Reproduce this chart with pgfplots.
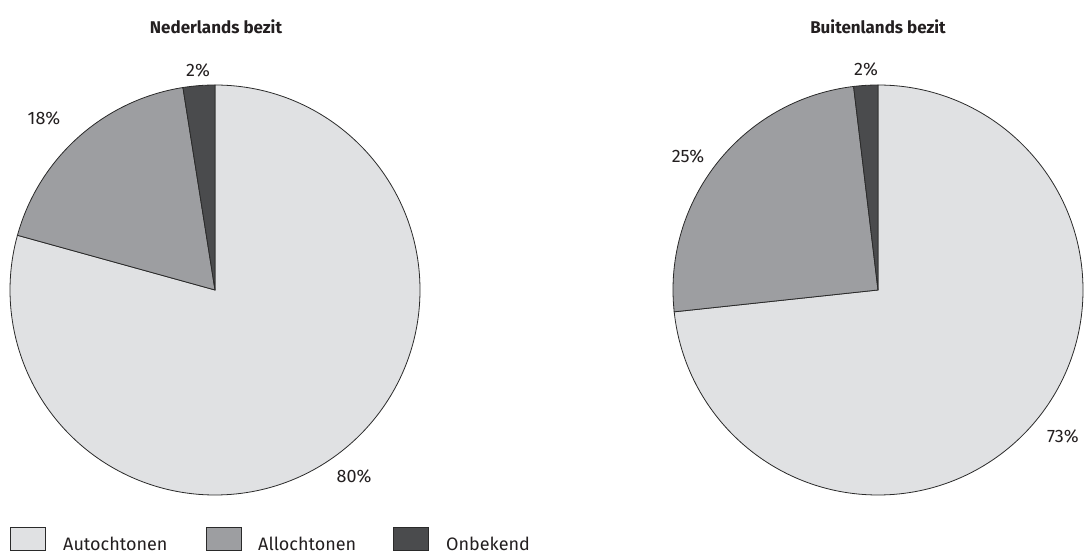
\documentclass[border=0pt]{standalone}
\usepackage{pgfplots}
\pgfplotsset{compat=1.18}
\usepackage{pgfplotstable}
\usepackage{fontspec}
\setmainfont{Fira Sans}
\definecolor{cAuto}{HTML}{E0E1E3}
\definecolor{cAllo}{HTML}{9D9EA1}
\definecolor{cOnb}{HTML}{4A4B4D}
\definecolor{cLine}{HTML}{2A2A2A}
\definecolor{cText}{HTML}{231F20}

\pgfplotstableread{
category value
Autochtonen 79.3
Allochtonen 18.2
Onbekend 2.5
}\nltable
\pgfplotstableread{
category value
Autochtonen 73.3
Allochtonen 24.8
Onbekend 1.9
}\bltable

\pgfplotstablegetelem{0}{value}\of\nltable \let\nlA\pgfplotsretval
\pgfplotstablegetelem{1}{value}\of\nltable \let\nlB\pgfplotsretval
\pgfplotstablegetelem{2}{value}\of\nltable \let\nlC\pgfplotsretval
\pgfplotstablegetelem{0}{value}\of\bltable \let\blA\pgfplotsretval
\pgfplotstablegetelem{1}{value}\of\bltable \let\blB\pgfplotsretval
\pgfplotstablegetelem{2}{value}\of\bltable \let\blC\pgfplotsretval

\pgfmathsetmacro{\nlEa}{90-3.6*\nlA}
\pgfmathsetmacro{\nlEb}{\nlEa-3.6*\nlB}
\pgfmathsetmacro{\nlEc}{\nlEb-3.6*\nlC}
\pgfmathsetmacro{\blEa}{90-3.6*\blA}
\pgfmathsetmacro{\blEb}{\blEa-3.6*\blB}
\pgfmathsetmacro{\blEc}{\blEb-3.6*\blC}

\begin{document}
\begin{tikzpicture}
\begin{axis}[
  scale only axis, width=1087bp, height=554bp,
  xmin=0, xmax=1087, ymin=0, ymax=554,
  hide axis, clip=false,
]
\addplot[draw=none] coordinates {(215,264)};
% left pie: Nederlands bezit
\filldraw[fill=cAuto, draw=cLine, line width=0.8bp] (axis cs:215,264) -- ++(90:205bp) arc[start angle=90, end angle=\nlEa, radius=205bp] -- cycle;
\filldraw[fill=cAllo, draw=cLine, line width=0.8bp] (axis cs:215,264) -- ++(\nlEa:205bp) arc[start angle=\nlEa, end angle=\nlEb, radius=205bp] -- cycle;
\filldraw[fill=cOnb, draw=cLine, line width=0.8bp] (axis cs:215,264) -- ++(\nlEb:205bp) arc[start angle=\nlEb, end angle=\nlEc, radius=205bp] -- cycle;
% right pie: Buitenlands bezit
\filldraw[fill=cAuto, draw=cLine, line width=0.8bp] (axis cs:878,264) -- ++(90:205bp) arc[start angle=90, end angle=\blEa, radius=205bp] -- cycle;
\filldraw[fill=cAllo, draw=cLine, line width=0.8bp] (axis cs:878,264) -- ++(\blEa:205bp) arc[start angle=\blEa, end angle=\blEb, radius=205bp] -- cycle;
\filldraw[fill=cOnb, draw=cLine, line width=0.8bp] (axis cs:878,264) -- ++(\blEb:205bp) arc[start angle=\blEb, end angle=\blEc, radius=205bp] -- cycle;
% titles
\node[font=\fontsize{17bp}{20bp}\selectfont\bfseries, text=cText] at (axis cs:216,527) {Nederlands bezit};
\node[font=\fontsize{17bp}{20bp}\selectfont\bfseries, text=cText] at (axis cs:878,527) {Buitenlands bezit};
% percentage labels
\node[font=\fontsize{18bp}{20bp}\selectfont, text=cText] at (axis cs:354,78) {80\%};
\node[font=\fontsize{18bp}{20bp}\selectfont, text=cText] at (axis cs:44,436) {18\%};
\node[font=\fontsize{18bp}{20bp}\selectfont, text=cText] at (axis cs:198,484) {2\%};
\node[font=\fontsize{18bp}{20bp}\selectfont, text=cText] at (axis cs:1063,118) {73\%};
\node[font=\fontsize{18bp}{20bp}\selectfont, text=cText] at (axis cs:688,398) {25\%};
\node[font=\fontsize{18bp}{20bp}\selectfont, text=cText] at (axis cs:866,485) {2\%};
% legend
\filldraw[fill=cAuto, draw=cLine, line width=0.8bp] (axis cs:10,4) rectangle (axis cs:45,27);
\node[anchor=base west, inner sep=0pt, font=\fontsize{18bp}{20bp}\selectfont, text=cText] at (axis cs:63,4) {Autochtonen};
\filldraw[fill=cAllo, draw=cLine, line width=0.8bp] (axis cs:206,4) rectangle (axis cs:241,27);
\node[anchor=base west, inner sep=0pt, font=\fontsize{18bp}{20bp}\selectfont, text=cText] at (axis cs:258,4) {Allochtonen};
\filldraw[fill=cOnb, draw=cLine, line width=0.8bp] (axis cs:393,4) rectangle (axis cs:428,27);
\node[anchor=base west, inner sep=0pt, font=\fontsize{18bp}{20bp}\selectfont, text=cText] at (axis cs:446,4) {Onbekend};
\end{axis}
\pgfresetboundingbox
\path (0,0) rectangle (1087bp,554bp);
\end{tikzpicture}
\end{document}
